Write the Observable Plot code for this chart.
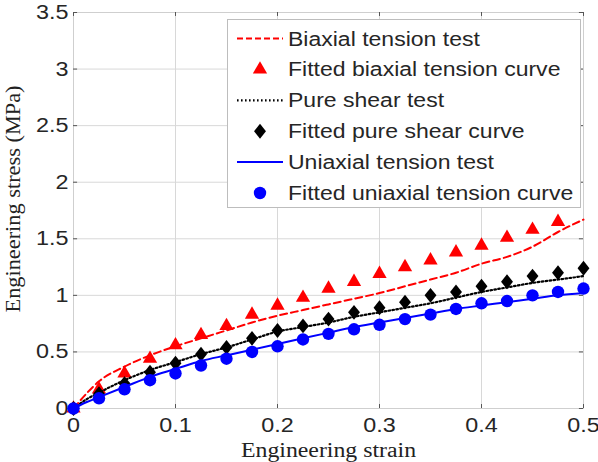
<!DOCTYPE html>
<html>
<head>
<meta charset="utf-8">
<script src="https://cdn.jsdelivr.net/npm/d3@7"></script>
<script src="https://cdn.jsdelivr.net/npm/@observablehq/plot@0.6"></script>
<style>
  body { margin: 0; background: #fff; }
  #chart { position: relative; width: 598px; height: 462px; overflow: hidden; background: #fff; }
  #chart svg { position: absolute; left: 0; top: 0; }
</style>
</head>
<body>
<div id="chart"></div>
<script>
// Measured test curves (engineering strain vs engineering stress, MPa)
const strainTest = [0, 0.0125, 0.025, 0.05, 0.075, 0.1, 0.125, 0.15, 0.175, 0.2, 0.225, 0.25, 0.275, 0.3, 0.325, 0.35, 0.375, 0.4, 0.425, 0.45, 0.475, 0.5];
const biaxialTest = [0, 0.13, 0.24, 0.37, 0.47, 0.55, 0.62, 0.69, 0.76, 0.82, 0.87, 0.92, 0.97, 1.02, 1.08, 1.14, 1.20, 1.28, 1.34, 1.43, 1.56, 1.67];
const shearTest = [0, 0.08, 0.14, 0.25, 0.34, 0.41, 0.48, 0.54, 0.61, 0.68, 0.72, 0.76, 0.81, 0.85, 0.89, 0.93, 0.98, 1.03, 1.07, 1.11, 1.14, 1.17];
const uniaxialTest = [0, 0.055, 0.10, 0.19, 0.28, 0.35, 0.42, 0.47, 0.52, 0.57, 0.62, 0.67, 0.72, 0.76, 0.80, 0.84, 0.88, 0.91, 0.94, 0.97, 1.00, 1.02];

// Fitted model curves, sampled every 0.025 strain
const strainFit = [0, 0.025, 0.05, 0.075, 0.1, 0.125, 0.15, 0.175, 0.2, 0.225, 0.25, 0.275, 0.3, 0.325, 0.35, 0.375, 0.4, 0.425, 0.45, 0.475, 0.5];
const biaxialFit = [0, 0.17, 0.31, 0.44, 0.56, 0.65, 0.73, 0.83, 0.91, 0.98, 1.06, 1.12, 1.19, 1.25, 1.31, 1.38, 1.44, 1.51, 1.58, 1.65];
const shearFit = [0, 0.13, 0.22, 0.32, 0.40, 0.48, 0.54, 0.62, 0.69, 0.73, 0.79, 0.85, 0.89, 0.94, 1.00, 1.03, 1.08, 1.12, 1.17, 1.20, 1.24];
const uniaxialFit = [0, 0.09, 0.17, 0.25, 0.31, 0.38, 0.44, 0.50, 0.55, 0.61, 0.66, 0.70, 0.74, 0.79, 0.83, 0.88, 0.93, 0.95, 1.00, 1.03, 1.06];

// Axes
const xTicks = [0, 0.1, 0.2, 0.3, 0.4, 0.5];
const xTickLabels = ["0", "0.1", "0.2", "0.3", "0.4", "0.5"];
const yTicks = [0, 0.5, 1, 1.5, 2, 2.5, 3, 3.5];
const yTickLabels = ["0", "0.5", "1", "1.5", "2", "2.5", "3", "3.5"];
const xLabel = "Engineering strain";
const yLabel = "Engineering stress (MPa)";

const legendLabels = [
  "Biaxial tension test",
  "Fitted biaxial tension curve",
  "Pure shear test",
  "Fitted pure shear curve",
  "Uniaxial tension test",
  "Fitted uniaxial tension curve"
];

const sans = "'Liberation Sans', Arial, Helvetica, sans-serif";
const serif = "'Liberation Serif', 'Times New Roman', serif";
const RED = "#ff0000", BLACK = "#000000", BLUE = "#0000ff";

const rows = (xs, ys) => ys.map((y, i) => ({x: xs[i], y}));

// A slightly squat diamond marker
const diamond = {
  draw(ctx, size) {
    const s = Math.sqrt(size);
    const w = s * 0.56, h = s * 0.70;
    ctx.moveTo(0, -h); ctx.lineTo(w, 0); ctx.lineTo(0, h); ctx.lineTo(-w, 0); ctx.closePath();
  }
};

const tickLen = 0.035; // inner tick length in stress units
const xTickLen = 0.004; // inner tick length in strain units

const plot = Plot.plot({
  width: 598,
  height: 462,
  marginLeft: 73,
  marginRight: 15,
  marginTop: 12,
  marginBottom: 54,
  style: {fontFamily: sans, fontSize: "20px", background: "transparent", color: "#262626", overflow: "visible"},
  x: {domain: [0, 0.5]},
  y: {domain: [0, 3.5]},
  marks: [
    Plot.gridX(xTicks, {stroke: "#d8d8d8", strokeOpacity: 1}),
    Plot.gridY(yTicks, {stroke: "#d8d8d8", strokeOpacity: 1}),
    Plot.frame({stroke: "#cfcfcf"}),
    Plot.ruleX(xTicks, {x: d => d, y1: 0, y2: tickLen, stroke: "#555"}),
    Plot.ruleX(xTicks, {x: d => d, y1: 3.5 - tickLen, y2: 3.5, stroke: "#555"}),
    Plot.ruleY(yTicks, {y: d => d, x1: 0, x2: xTickLen, stroke: "#555"}),
    Plot.ruleY(yTicks, {y: d => d, x1: 0.5 - xTickLen, x2: 0.5, stroke: "#555"}),
    Plot.axisX(xTicks, {tickSize: 0, tickPadding: 9, label: null, tickFormat: d => xTickLabels[xTicks.indexOf(d)], fontSize: 20.5}),
    Plot.axisY(yTicks, {tickSize: 0, tickPadding: 5, label: null, tickFormat: d => yTickLabels[yTicks.indexOf(d)], fontSize: 20.5}),
    Plot.text([xLabel], {frameAnchor: "bottom", textAnchor: "middle", lineAnchor: "bottom", dy: 48, fontFamily: serif, fontSize: 20, fill: "#222", className: "x-label"}),
    Plot.text([yLabel], {frameAnchor: "left", textAnchor: "middle", lineAnchor: "middle", rotate: -90, dx: -59.5, dy: -11.5, fontFamily: serif, fontSize: 20, fill: "#222", className: "y-label"}),
    // biaxial
    Plot.line(rows(strainTest, biaxialTest), {x: "x", y: "y", stroke: RED, strokeWidth: 2, strokeDasharray: "7,4", curve: "monotone-x"}),
    Plot.dot(rows(strainFit, biaxialFit), {x: "x", y: "y", symbol: "triangle", r: 5.3, fill: RED, stroke: "none"}),
    // pure shear
    Plot.line(rows(strainTest, shearTest), {x: "x", y: "y", stroke: BLACK, strokeWidth: 2.2, strokeDasharray: "1.6,2.4", curve: "monotone-x"}),
    Plot.dot(rows(strainFit, shearFit), {x: "x", y: "y", symbol: diamond, r: 6, fill: BLACK, stroke: "none"}),
    // uniaxial
    Plot.line(rows(strainTest, uniaxialTest), {x: "x", y: "y", stroke: BLUE, strokeWidth: 2, curve: "monotone-x"}),
    Plot.dot(rows(strainFit, uniaxialFit), {x: "x", y: "y", symbol: "circle", r: 6.2, fill: BLUE, stroke: "none"})
  ]
});

const chart = document.getElementById("chart");
chart.appendChild(plot);

// Widen glyphs horizontally to the proportions of the original typeface
function stretch(sel, factor, fixed) {
  sel.forEach(t => {
    const len = fixed || t.getComputedTextLength() * factor;
    t.setAttribute("textLength", len);
    t.setAttribute("lengthAdjust", "spacingAndGlyphs");
  });
}
stretch(plot.querySelectorAll("g[aria-label='x-axis tick label'] text"), 1.14);
stretch(plot.querySelectorAll("g[aria-label='y-axis tick label'] text"), 1.14);
stretch(plot.querySelectorAll(".x-label text"), 1.19);
stretch(plot.querySelectorAll(".y-label text"), 1, 227);

// Legend box in the upper right of the axes
const legend = d3.select(chart).append("svg")
  .attr("width", 598).attr("height", 462)
  .style("pointer-events", "none");

const box = {x: 227, y: 19, w: 353, h: 188};
legend.append("rect")
  .attr("x", box.x + 0.5).attr("y", box.y + 0.5)
  .attr("width", box.w).attr("height", box.h)
  .attr("fill", "#fff").attr("stroke", "#bdbdbd");

const rowY = i => 38.5 + i * 30.9;
const sampleX0 = 237, sampleX1 = 283, markerX = 260, textX = 288;
const entries = [
  {type: "line", stroke: RED, width: 2, dash: "6,3"},
  {type: "marker", symbol: d3.symbolTriangle, size: Math.PI * 5.3 * 5.3, fill: RED},
  {type: "line", stroke: BLACK, width: 2.2, dash: "1.6,2.4"},
  {type: "marker", symbol: diamond, size: Math.PI * 6 * 6, fill: BLACK},
  {type: "line", stroke: BLUE, width: 2, dash: null},
  {type: "marker", symbol: d3.symbolCircle, size: Math.PI * 6.2 * 6.2, fill: BLUE}
];

entries.forEach((e, i) => {
  const y = rowY(i);
  if (e.type === "line") {
    legend.append("line")
      .attr("x1", sampleX0).attr("x2", sampleX1)
      .attr("y1", y).attr("y2", y)
      .attr("stroke", e.stroke).attr("stroke-width", e.width)
      .attr("stroke-dasharray", e.dash);
  } else {
    legend.append("path")
      .attr("transform", `translate(${markerX},${y})`)
      .attr("d", d3.symbol(e.symbol, e.size)())
      .attr("fill", e.fill);
  }
  legend.append("text")
    .attr("class", "legend-label")
    .attr("x", textX).attr("y", y)
    .attr("dy", "0.36em")
    .attr("font-family", sans)
    .attr("font-size", 19.5)
    .attr("fill", "#262626")
    .text(legendLabels[i]);
});
stretch(legend.node().querySelectorAll("text.legend-label"), 1.18);
</script>
</body>
</html>
